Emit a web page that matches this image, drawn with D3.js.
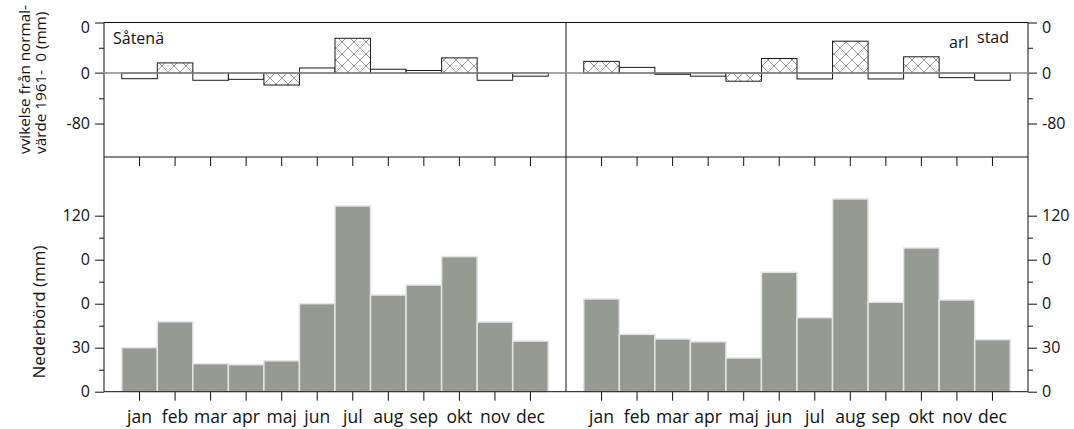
<!DOCTYPE html>
<html>
<head>
<meta charset="utf-8">
<script src="https://cdn.jsdelivr.net/npm/d3@7"></script>
<style>
  body { margin: 0; background: #fff; }
  text { font-family: 'Open Sans', sans-serif; fill: #111; }
</style>
</head>
<body>
<div id="chart"></div>
<script>
const months = ['jan', 'feb', 'mar', 'apr', 'maj', 'jun', 'jul', 'aug', 'sep', 'okt', 'nov', 'dec'];

// avvikelse från normalvärde (mm)
const satenasDev = [-9, 16, -11.5, -10, -19, 8, 55, 6, 4, 24, -11.5, -5];
const satenasHatch = [0, 1, 0, 0, 1, 0, 1, 0, 0, 1, 0, 0];
const karlstadDev = [18.4, 8.9, -2, -5, -13, 23, -9.4, 50.4, -9.4, 25.7, -7.3, -11.5];
const karlstadHatch = [1, 0, 0, 0, 1, 1, 0, 1, 0, 1, 0, 0];

// nederbörd (mm)
const satenasPrecip = [30, 47.7, 19.1, 18.4, 21.1, 60, 126.6, 65.9, 72.7, 92.1, 47.5, 34.5];
const karlstadPrecip = [63.2, 39.1, 35.9, 34, 23, 81.4, 50.5, 131.4, 61, 98, 62.5, 35.5];

const devTicks = [80, 0, -80];
const devTickLabels = ['0', '0', '-80'];
const devMinor = [40, -40];
const precipTicks = [0, 30, 60, 90, 120];
const precipTickLabels = ['0', '30', '0', '0', '120'];
const precipMinor = [15, 45, 75, 105];

const width = 1074;
const height = 429;
const leftX = 104;
const midX = 566;
const rightX = 1028;
const topY = 22.5;
const splitY = 157;
const baseY = 391.7;

const svg = d3.select('#chart')
  .append('svg')
  .attr('width', width)
  .attr('height', height);

const defs = svg.append('defs');
const hatch = defs.append('pattern')
  .attr('id', 'hatch')
  .attr('patternUnits', 'userSpaceOnUse')
  .attr('width', 12)
  .attr('height', 12);
hatch.append('rect').attr('width', 12).attr('height', 12).attr('fill', '#fff');
hatch.append('path')
  .attr('d', 'M0,0L12,12M0,12L12,0')
  .attr('stroke', '#9c9c9c')
  .attr('stroke-width', 1)
  .attr('fill', 'none');

const yDev = d3.scaleLinear().domain([-133, 80]).range([splitY, topY]);
const yPrecip = d3.scaleLinear().domain([0, 160]).range([baseY, splitY]);

const xLeft = d3.scaleBand().domain(months).range([leftX, midX]).paddingInner(0).paddingOuter(0.5);
const xRight = d3.scaleBand().domain(months).range([midX, rightX]).paddingInner(0).paddingOuter(0.5);

const styleAxis = (size) => (g) => {
  g.attr('font-family', null).attr('font-size', null);
  g.selectAll('.domain').remove();
  g.selectAll('line').attr('stroke', '#111');
  g.selectAll('text').style('font-size', `${size}px`);
};

const drawPanel = (x, dev, hatchFlags, precip) => {
  // precipitation bars
  svg.append('g')
    .selectAll('rect')
    .data(precip)
    .enter()
    .append('rect')
    .attr('x', (d, i) => x(months[i]))
    .attr('width', x.bandwidth())
    .attr('y', (d) => yPrecip(d))
    .attr('height', (d) => yPrecip(0) - yPrecip(d))
    .attr('fill', '#959a92')
    .attr('stroke', '#e4e4e4')
    .attr('stroke-width', 1.5);

  // deviation bars
  svg.append('g')
    .selectAll('rect')
    .data(dev)
    .enter()
    .append('rect')
    .attr('x', (d, i) => x(months[i]))
    .attr('width', x.bandwidth())
    .attr('y', (d) => yDev(Math.max(0, d)))
    .attr('height', (d) => Math.abs(yDev(d) - yDev(0)))
    .attr('fill', (d, i) => (hatchFlags[i] ? 'url(#hatch)' : '#fff'))
    .attr('stroke', '#1a1a1a')
    .attr('stroke-width', 1);

  // month ticks at panel split and baseline
  svg.append('g')
    .attr('transform', `translate(0 ${splitY})`)
    .call(d3.axisBottom(x).tickSize(9).tickFormat(''))
    .call(styleAxis(16));

  svg.append('g')
    .attr('transform', `translate(0 ${baseY})`)
    .call(d3.axisBottom(x).tickSize(9).tickPadding(10))
    .call(styleAxis(17.5));
};

drawPanel(xLeft, satenasDev, satenasHatch, satenasPrecip);
drawPanel(xRight, karlstadDev, karlstadHatch, karlstadPrecip);

// y axes, both sides
const sides = [
  { pos: leftX, axis: d3.axisLeft },
  { pos: rightX, axis: d3.axisRight },
];
sides.forEach(({ pos, axis }) => {
  const devAxis = svg.append('g')
    .attr('transform', `translate(${pos} 0)`)
    .call(axis(yDev).tickValues(devTicks).tickSize(9).tickPadding(5)
      .tickFormat((d, i) => devTickLabels[i]))
    .call(styleAxis(16));
  devAxis.selectAll('text').filter((d) => d === 80).attr('dy', '0.65em');

  svg.append('g')
    .attr('transform', `translate(${pos} 0)`)
    .call(axis(yDev).tickValues(devMinor).tickSize(5).tickFormat(''))
    .call(styleAxis(16));

  svg.append('g')
    .attr('transform', `translate(${pos} 0)`)
    .call(axis(yPrecip).tickValues(precipTicks).tickSize(9).tickPadding(5)
      .tickFormat((d, i) => precipTickLabels[i]))
    .call(styleAxis(16));

  svg.append('g')
    .attr('transform', `translate(${pos} 0)`)
    .call(axis(yPrecip).tickValues(precipMinor).tickSize(5).tickFormat(''))
    .call(styleAxis(16));
});

// frame
const frame = svg.append('g').attr('stroke', '#111').attr('stroke-width', 1).attr('fill', 'none');
frame.append('line').attr('x1', leftX).attr('x2', rightX).attr('y1', topY).attr('y2', topY);
frame.append('line').attr('x1', leftX).attr('x2', rightX).attr('y1', splitY).attr('y2', splitY);
frame.append('line').attr('x1', leftX).attr('x2', rightX).attr('y1', baseY).attr('y2', baseY);
frame.append('line').attr('x1', leftX).attr('x2', leftX).attr('y1', topY).attr('y2', baseY);
frame.append('line').attr('x1', rightX).attr('x2', rightX).attr('y1', topY).attr('y2', baseY);
frame.append('line').attr('x1', midX).attr('x2', midX).attr('y1', topY).attr('y2', baseY);

// zero line of deviation panel
svg.append('line')
  .attr('x1', leftX - 9)
  .attr('x2', rightX + 9)
  .attr('y1', yDev(0))
  .attr('y2', yDev(0))
  .attr('stroke', '#8a8a8a')
  .attr('stroke-width', 1.5);

// station labels
svg.append('text').attr('x', 113).attr('y', 43.5).style('font-size', '16px').text('Såtenä');
svg.append('text').attr('x', 949).attr('y', 47.5).style('font-size', '16px').text('arl');
svg.append('text').attr('x', 977).attr('y', 42.5).style('font-size', '16px').text('stad');

// y titles
const devTitle = svg.append('text')
  .attr('transform', 'translate(30 154) rotate(-90)')
  .style('font-size', '15.3px');
devTitle.append('tspan').attr('x', 0).attr('y', 0).text('vvikelse från normal-');
devTitle.append('tspan').attr('x', 0).attr('y', 16).text('värde 1961-\u00a0\u00a00 (mm)');

svg.append('text')
  .attr('transform', 'translate(45 312) rotate(-90)')
  .attr('text-anchor', 'middle')
  .style('font-size', '17px')
  .text('Nederbörd (mm)');
</script>
</body>
</html>
